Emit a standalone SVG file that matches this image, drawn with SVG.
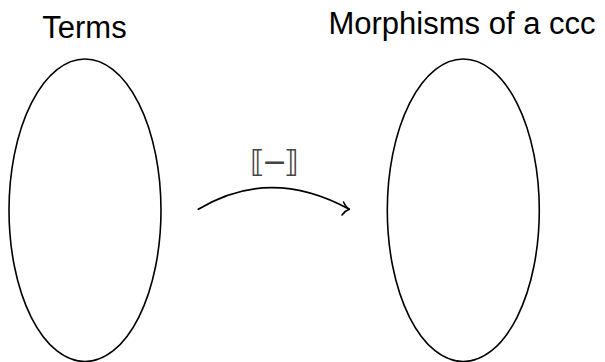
<svg xmlns="http://www.w3.org/2000/svg" width="605" height="362" viewBox="0 0 605 362">
<style>
.set{fill:none;stroke:#000;stroke-width:1.6}
.title{font-family:"Liberation Sans",Arial,sans-serif;font-size:31px;fill:#000;text-anchor:middle}
.lbl{font-family:"DejaVu Sans",sans-serif;font-size:30px;fill:#444;text-anchor:middle;letter-spacing:-3px}
.conn{fill:none;stroke:#000;stroke-width:1.6;stroke-linecap:round;stroke-linejoin:round}
</style>
<rect width="605" height="362" fill="#fff"/>
<g id="terms">
<ellipse class="set" cx="85" cy="210.3" rx="76" ry="151.3"/>
<text class="title" x="84.5" y="37.5">Terms</text>
</g>
<g id="morphisms">
<ellipse class="set" cx="463.3" cy="210.3" rx="76" ry="151.3"/>
<text class="title" x="462" y="33.5">Morphisms of a ccc</text>
</g>
<g id="connectors">
<path class="conn" d="M198.3,209.3 Q270,166 349.3,209.3"/>
<path class="conn" d="M343.5,202 Q346,207.5 349.3,209.3 Q345.5,210.5 342,215"/>
<text class="lbl" x="273" y="172">⟦−⟧</text>
</g>
</svg>
